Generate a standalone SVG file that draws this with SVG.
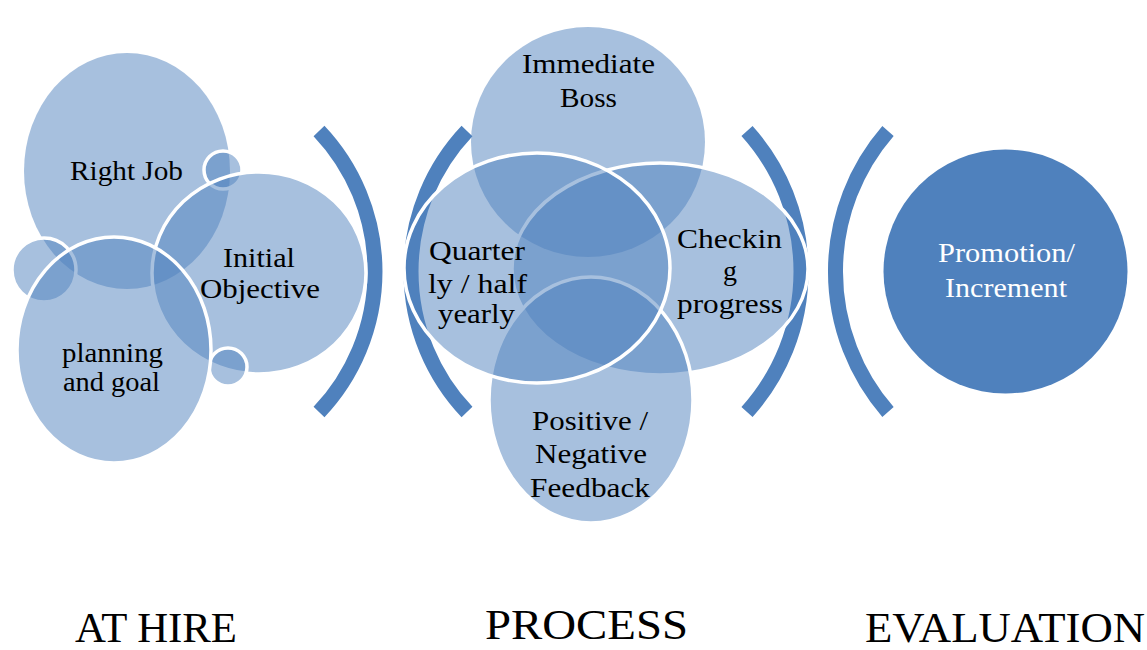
<svg xmlns="http://www.w3.org/2000/svg" width="1147" height="650" viewBox="0 0 1147 650">
  <style>
    .bub { fill: #4F81BD; fill-opacity: 0.5; }
    .ring { stroke: #FFFFFF; stroke-width: 3.5; }
    .solid { fill: #4F81BD; }
    .brace { fill: none; stroke: #4F81BD; stroke-width: 15; stroke-linecap: butt; }
    .lbl { font-family: "Liberation Serif", "Times New Roman", serif; font-size: 27px; fill: #000000; text-anchor: middle; }
    .lbl-w { fill: #FFFFFF; }
    .head { font-family: "Liberation Serif", "Times New Roman", serif; font-size: 42px; fill: #000000; text-anchor: middle; }
  </style>

  <!-- stage brackets -->
  <g id="connectors">
    <path class="brace" d="M319 131 A204.3 204.3 0 0 1 319 412"/>
    <path class="brace" d="M467 131 A204.3 204.3 0 0 0 467 412"/>
    <path class="brace" d="M747 131 A209.8 209.8 0 0 1 747 412"/>
    <path class="brace" d="M888 131 A214.2 214.2 0 0 0 888 412"/>
  </g>

  <!-- at hire cluster -->
  <g id="right-job">
    <ellipse class="bub" cx="127" cy="171" rx="103" ry="118"/>
  </g>
  <g id="dot-top">
    <circle class="bub ring" cx="223" cy="170" r="19"/>
  </g>
  <g id="initial-objective">
    <ellipse class="bub ring" cx="259" cy="273" rx="107" ry="101"/>
  </g>
  <g id="dot-left">
    <circle class="bub ring" cx="44" cy="270" r="32"/>
  </g>
  <g id="dot-bottom">
    <circle class="bub ring" cx="228" cy="367" r="19"/>
  </g>
  <g id="planning-goal">
    <ellipse class="bub ring" cx="114" cy="350" rx="97" ry="113"/>
  </g>

  <!-- process cluster -->
  <g id="immediate-boss">
    <ellipse class="bub" cx="588" cy="142" rx="117" ry="115"/>
  </g>
  <g id="checking-progress">
    <ellipse class="bub ring" cx="660" cy="269" rx="148" ry="106"/>
  </g>
  <g id="feedback">
    <ellipse class="bub ring" cx="591" cy="400" rx="102" ry="123"/>
  </g>
  <g id="quarterly">
    <ellipse class="bub ring" cx="537" cy="268" rx="133" ry="115"/>
  </g>

  <!-- evaluation -->
  <g id="promotion">
    <circle class="solid" cx="1005.5" cy="271.5" r="122"/>
  </g>

  <!-- labels -->
  <g id="labels">
    <text class="lbl" x="126.5" y="180" textLength="113" lengthAdjust="spacingAndGlyphs">Right Job</text>
    <text class="lbl" x="259" y="267" textLength="72" lengthAdjust="spacingAndGlyphs">Initial</text>
    <text class="lbl" x="260" y="298" textLength="120" lengthAdjust="spacingAndGlyphs">Objective</text>
    <text class="lbl" x="112.5" y="362" textLength="101" lengthAdjust="spacingAndGlyphs">planning</text>
    <text class="lbl" x="111.5" y="391" textLength="97" lengthAdjust="spacingAndGlyphs">and goal</text>

    <text class="lbl" x="588.5" y="73" textLength="133" lengthAdjust="spacingAndGlyphs">Immediate</text>
    <text class="lbl" x="588.5" y="107" textLength="57" lengthAdjust="spacingAndGlyphs">Boss</text>
    <text class="lbl" x="477" y="260" textLength="96" lengthAdjust="spacingAndGlyphs">Quarter</text>
    <text class="lbl" x="477.5" y="293" textLength="99" lengthAdjust="spacingAndGlyphs">ly / half</text>
    <text class="lbl" x="476.5" y="323" textLength="77" lengthAdjust="spacingAndGlyphs">yearly</text>
    <text class="lbl" x="729.5" y="248" textLength="105" lengthAdjust="spacingAndGlyphs">Checkin</text>
    <text class="lbl" x="730" y="280" textLength="14" lengthAdjust="spacingAndGlyphs">g</text>
    <text class="lbl" x="730" y="313" textLength="106" lengthAdjust="spacingAndGlyphs">progress</text>
    <text class="lbl" x="590" y="430" textLength="116" lengthAdjust="spacingAndGlyphs">Positive /</text>
    <text class="lbl" x="591" y="463" textLength="112" lengthAdjust="spacingAndGlyphs">Negative</text>
    <text class="lbl" x="590" y="497" textLength="120" lengthAdjust="spacingAndGlyphs">Feedback</text>

    <text class="lbl lbl-w" x="1006.5" y="262" textLength="137" lengthAdjust="spacingAndGlyphs">Promotion/</text>
    <text class="lbl lbl-w" x="1006" y="297" textLength="122" lengthAdjust="spacingAndGlyphs">Increment</text>

    <text class="head" x="156" y="642" textLength="162" lengthAdjust="spacingAndGlyphs">AT HIRE</text>
    <text class="head" x="586.5" y="639" textLength="203" lengthAdjust="spacingAndGlyphs">PROCESS</text>
    <text class="head" x="1005" y="642" textLength="280" lengthAdjust="spacingAndGlyphs">EVALUATION</text>
  </g>
</svg>
